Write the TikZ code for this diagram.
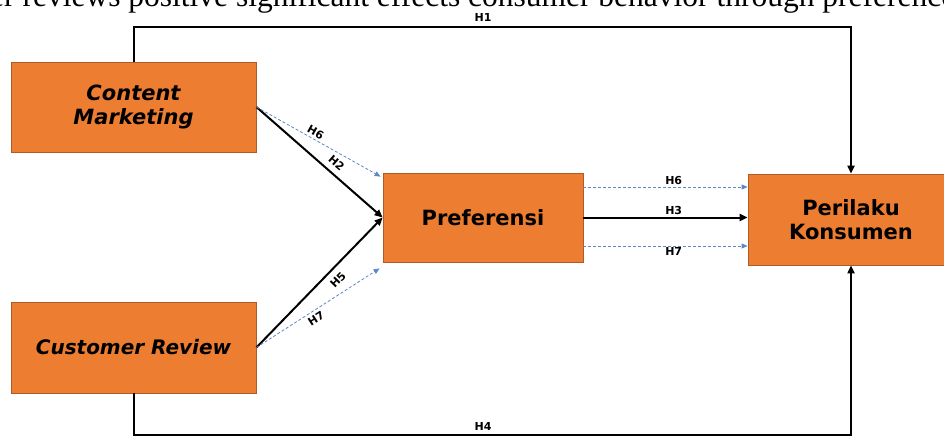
\documentclass[tikz,border=0pt]{standalone}
\usepackage{fontspec}
\setmainfont{Liberation Serif}
\newfontfamily\kotakfont{DejaVu Sans}
\usetikzlibrary{arrows.meta}

\definecolor{oranye}{HTML}{ED7D31}
\definecolor{tepi}{HTML}{B05A26}
\definecolor{putus}{HTML}{5F86C8}

\tikzset{
  kotak/.style={draw=tepi, fill=oranye, line width=0.8pt,
    minimum width=245pt, minimum height=90pt, inner sep=0pt,
    align=center, font=\kotakfont\bfseries\fontsize{21}{24}\selectfont},
  hipo/.style={line width=2pt, -{Triangle[length=8pt,width=7pt]}},
  hipoputus/.style={putus, line width=0.8pt, dash pattern=on 3pt off 2pt,
    -{Triangle[length=6pt,width=5pt]}},
  lbl/.style={font=\kotakfont\bfseries\fontsize{11}{12}\selectfont,
    inner sep=1.5pt, text=black}
}

\begin{document}
\begin{tikzpicture}[x=1pt,y=-1pt]

\useasboundingbox (0,0) rectangle (944,437);
\clip (0,0) rectangle (944,437);

% Judul (terpotong)
\node[anchor=base west, inner sep=0pt,
  font=\fontsize{31.5}{34}\selectfont]
  (judul) at (-10,6)
  {er reviews positive significant effects consumer behavior through preferences};

% Variabel
\node[kotak, font=\kotakfont\bfseries\itshape\fontsize{21}{24}\selectfont]
  (cm) at (133.5,107)
  {Content\\Marketing};

\node[kotak, minimum height=91pt,
  font=\kotakfont\bfseries\itshape\fontsize{20}{24}\selectfont]
  (cr) at (133.5,347.5)
  {Customer Review};

\node[kotak, minimum width=200pt, minimum height=89pt]
  (pref) at (483,217.5)
  {Preferensi};

\node[kotak, minimum width=206pt, minimum height=91pt]
  (pk) at (851,219.5)
  {Perilaku\\Konsumen};

% H1
\draw[hipo]
(cm.north)
-- ++(0,-35)
-| (pk.north);
\node[lbl] (h1) at (483,17) {H1};

% H4
\draw[hipo]
(cr.south)
-- ++(0,42)
-| (pk.south);
\node[lbl] (h4) at (483,426) {H4};

% H2 dan H6
\draw[hipo]
(cm.east)
--
(pref.west)
node[lbl, sloped, above=4pt, pos=0.58] {H2};

\draw[hipoputus]
(cm.east)
--
([shift={(-2,4)}]pref.north west)
node[lbl, sloped, above=1pt, pos=0.45] {H6};

% H5 dan H7
\draw[hipo]
(cr.east)
--
(pref.west)
node[lbl, sloped, below=5pt, pos=0.58] {H5};

\draw[hipoputus]
(cr.east)
--
([shift={(-3,6)}]pref.south west)
node[lbl, sloped, below=2pt, pos=0.45] {H7};

% Preferensi ke Perilaku
\coordinate (p6) at ([yshift=30.5pt]pref.east);
\coordinate (p7) at ([yshift=-28.5pt]pref.east);

\draw[hipoputus]
(p6)
--
(p6 -| pk.west)
node[lbl, above, pos=0.55] {H6};

\draw[hipo]
(pref.east)
--
(pref.east -| pk.west)
node[lbl, above, pos=0.55] {H3};

\draw[hipoputus]
(p7)
--
(p7 -| pk.west)
node[lbl, below, pos=0.55] {H7};

\end{tikzpicture}
\end{document}
